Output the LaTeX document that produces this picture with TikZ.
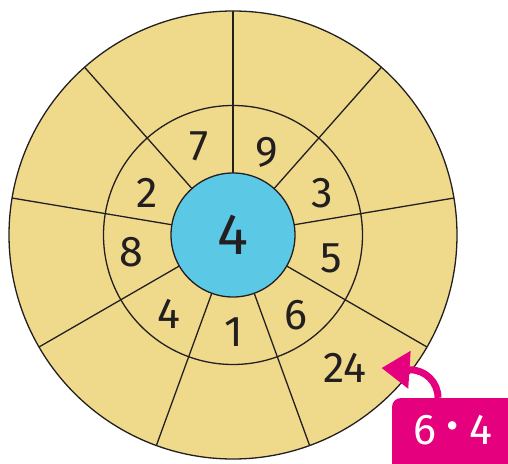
\documentclass[tikz,border=0pt]{standalone}
\usepackage{fontspec}
\setmainfont{Fira Sans}
\usetikzlibrary{arrows.meta}
\definecolor{sand}{RGB}{239,218,140}
\definecolor{sky}{RGB}{91,200,229}
\definecolor{hotpink}{RGB}{229,0,125}
\definecolor{ink}{RGB}{35,31,32}
\begin{document}
\begin{tikzpicture}[x=1pt,y=1pt,
  ring/.style={draw=ink,line width=1.3pt},
  num/.style={font=\fontsize{43}{43}\selectfont,text=ink,inner sep=0pt},
  calcbox/.style={fill=hotpink,rounded corners=9pt,minimum width=128pt,minimum height=77pt,inner sep=0pt},
  pinkarrow/.style={draw=hotpink,line width=7pt,-{Triangle[length=28pt,width=36pt]}}]
\useasboundingbox (0,0) rectangle (508,463);
\coordinate (C) at (233,228);
\fill[sand] (C) circle (224);
\draw[ring] (C) circle (224);
\draw[ring] (C) circle (129.5);
\foreach \a in {90,48.5,9.5,-30,-70,-110,-150,170.5,131.5}
  \draw[ring] ([shift={(\a:62)}]C) -- ([shift={(\a:224)}]C);
\node[circle,fill=sky,draw=ink,line width=1.3pt,minimum size=124pt,inner sep=0pt,
      font=\fontsize{58}{58}\selectfont,text=ink] (hub) at (C) {4};
\node[num] (n7) at (199,317) {7};
\node[num] (n9) at (267,311) {9};
\node[num] (n3) at (322,270) {3};
\node[num] (n5) at (331,205) {5};
\node[num] (n6) at (296,148) {6};
\node[num] (n1) at (234,131) {1};
\node[num] (n4) at (169,149) {4};
\node[num] (n8) at (131,211) {8};
\node[num] (n2) at (147,270) {2};
\node[num] (n24) at (345,95) {24};
\node[calcbox] (calc) at (456,26.5) {};
\node[num,text=white] (calctext) at (453,33) {6\hspace{9pt}{\fontsize{60}{60}\selectfont·}\hspace{9pt}4};
\coordinate (tip) at (381.5,95);
\draw[pinkarrow] ([xshift=-18pt]calc.north) arc[start angle=0,end angle=90,radius=28] -- (tip);
\end{tikzpicture}
\end{document}
